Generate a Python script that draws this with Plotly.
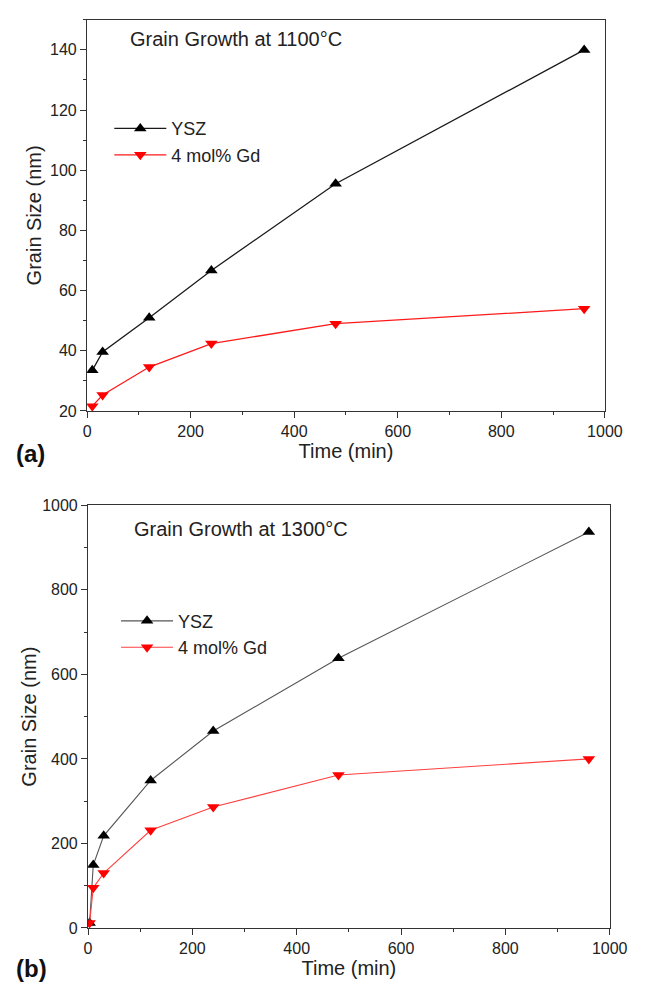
import plotly.graph_objects as go

# Panel (a): 1100 C
time_a = [10, 30, 120, 240, 480, 960]
ysz_a = [33.5, 39.6, 51.0, 66.7, 95.5, 140.0]
gd_a = [21.6, 25.3, 34.6, 42.4, 49.0, 54.0]

# Panel (b): 1300 C
time_b = [3, 10, 30, 120, 240, 480, 960]
ysz_b = [12, 149, 218, 349, 466, 638, 937]
gd_b = [12, 95, 130, 231, 286, 362, 400]

W, H = 648, 992
FONT = "Liberation Sans, Arial, sans-serif"

def py(p):
    return 1 - p / H

def px(p):
    return p / W

fig = go.Figure()

fig.add_trace(go.Scatter(x=time_a, y=ysz_a, name="YSZ", mode="lines+markers",
                         line=dict(color="#1a1a1a", width=1.3),
                         marker=dict(symbol="triangle-up", size=11, color="black"),
                         xaxis="x", yaxis="y", legend="legend"))
fig.add_trace(go.Scatter(x=time_a, y=gd_a, name="4 mol% Gd", mode="lines+markers",
                         line=dict(color="#ff1a1a", width=1.3),
                         marker=dict(symbol="triangle-down", size=11, color="#ff0000"),
                         xaxis="x", yaxis="y", legend="legend"))
fig.add_trace(go.Scatter(x=time_b, y=ysz_b, name="YSZ", mode="lines+markers",
                         line=dict(color="#555555", width=1.1),
                         marker=dict(symbol="triangle-up", size=11, color="black"),
                         xaxis="x2", yaxis="y2", legend="legend2"))
fig.add_trace(go.Scatter(x=time_b, y=gd_b, name="4 mol% Gd", mode="lines+markers",
                         line=dict(color="#ff4040", width=1.1),
                         marker=dict(symbol="triangle-down", size=11, color="#ff0000"),
                         xaxis="x2", yaxis="y2", legend="legend2"))

common_axis = dict(showline=True, linecolor="#333", linewidth=1.2, mirror=True,
                   ticks="outside", ticklen=6, tickwidth=1.2, tickcolor="#333",
                   showgrid=False, zeroline=False,
                   tickfont=dict(family=FONT, size=16, color="#222"),
                   minor=dict(ticks="outside", ticklen=3, tickwidth=1.2, tickcolor="#333"))
TFONT = dict(family=FONT, size=20, color="#222")
LFONT = dict(family=FONT, size=18, color="#222")

fig.update_layout(
    width=W, height=H,
    margin=dict(l=0, r=0, t=0, b=0),
    paper_bgcolor="white", plot_bgcolor="white",
    font=dict(family=FONT, color="#222"),
    xaxis=dict(domain=[px(86), px(622)], range=[0, 1000], dtick=200, anchor="y",
               minor_dtick=100,
               title=dict(text="Time (min)", font=TFONT, standoff=3),
               **common_axis),
    yaxis=dict(domain=[py(410), py(12)], range=[20, 150], tick0=20, dtick=20,
               minor_dtick=10, anchor="x",
               title=dict(text="Grain Size (nm)", font=TFONT, standoff=3),
               **common_axis),
    xaxis2=dict(domain=[px(87), px(627)], range=[0, 1000], dtick=200, anchor="y2",
                minor_dtick=100,
                title=dict(text="Time (min)", font=TFONT, standoff=3),
                **common_axis),
    yaxis2=dict(domain=[py(936), py(506)], range=[0, 1000], dtick=200,
                minor_dtick=100, anchor="x2",
                title=dict(text="Grain Size (nm)", font=TFONT, standoff=0),
                **common_axis),
    legend=dict(x=px(109), y=py(104), xanchor="left", yanchor="top",
                bgcolor="rgba(0,0,0,0)", font=LFONT,
                itemwidth=52, tracegroupgap=0),
    legend2=dict(x=px(116), y=py(605), xanchor="left", yanchor="top",
                 bgcolor="rgba(0,0,0,0)", font=LFONT,
                 itemwidth=52, tracegroupgap=0),
    showlegend=True,
)

fig.add_annotation(text="Grain Growth at 1100\u00b0C", xref="paper", yref="paper",
                   x=px(128), y=py(32), xanchor="left", yanchor="middle", showarrow=False,
                   font=TFONT)
fig.add_annotation(text="Grain Growth at 1300\u00b0C", xref="paper", yref="paper",
                   x=px(133), y=py(530), xanchor="left", yanchor="middle", showarrow=False,
                   font=TFONT)
fig.add_annotation(text="<b>(a)</b>", xref="paper", yref="paper",
                   x=px(10), y=py(453), xanchor="left", yanchor="middle", showarrow=False,
                   font=dict(family=FONT, size=24, color="#111"))
fig.add_annotation(text="<b>(b)</b>", xref="paper", yref="paper",
                   x=px(10), y=py(977), xanchor="left", yanchor="middle", showarrow=False,
                   font=dict(family=FONT, size=24, color="#111"))

fig.write_html("out.html", config={"displayModeBar": False},
               post_script="document.body.style.margin='0';")
